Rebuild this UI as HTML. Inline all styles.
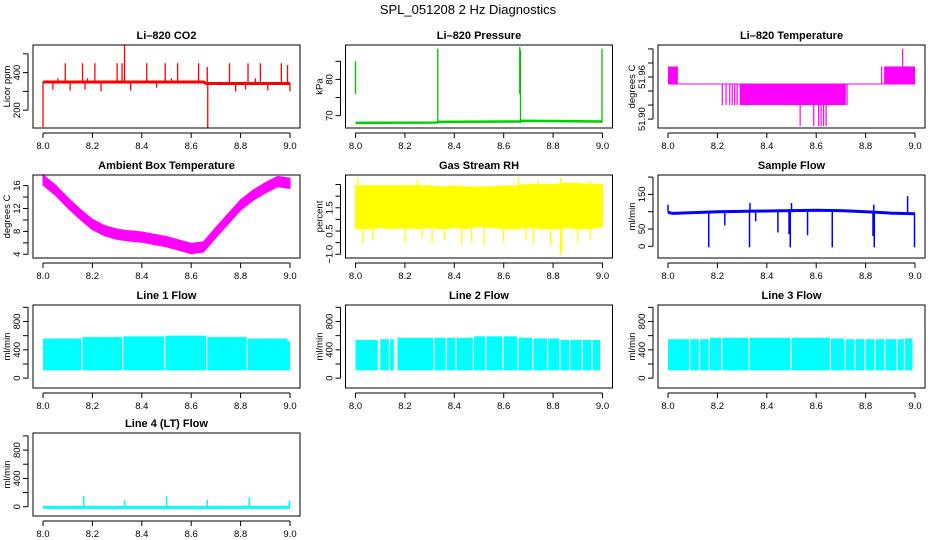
<!DOCTYPE html>
<html><head><meta charset="utf-8"><style>
body{margin:0;background:#fff}
svg{display:block;font-family:"Liberation Sans",Arial,sans-serif}
.t{font-weight:bold;font-size:11px}
.k{font-size:9.5px}
</style></head><body>
<svg id="c" width="936" height="540" viewBox="0 0 936 540">
<text x="468" y="14" text-anchor="middle" font-size="13">SPL_051208  2 Hz Diagnostics</text>
</svg>
<script>
// ---- data ----
const xTicks=[8.0,8.2,8.4,8.6,8.8,9.0];
const co2BaseT=[8.0,8.65,8.66,9.0];
const co2BaseV=[350,350,342,342];
const co2SpikeT=[8.09,8.16,8.21,8.30,8.32,8.42,8.495,8.545,8.63,8.665,8.755,8.83,8.88,8.965,8.99,8.33,8.0,8.667,8.04,8.11,8.17,8.235,8.355,8.46,8.78,8.82,8.91,9.0,8.06,8.18,8.52,8.86];
const co2SpikeV=[450,450,450,450,450,450,450,450,450,430,450,450,450,450,440,550,110,105,310,305,310,300,305,320,300,310,305,300,370,370,370,370];
const presBaseT=[8.0,8.33,8.335,8.665,8.67,9.0];
const presBaseV=[68.0,68.1,68.3,68.4,68.6,68.4];
const presSpikeT=[8.0,8.333,8.665,8.668,8.998];
const presSpikeLo=[76,68,76,68,68];
const presSpikeHi=[85,88.5,89,88,88.5];
const tempBandT0=[8.0,8.875,8.29,8.34];
const tempBandT1=[8.04,9.0,8.34,8.72];
const tempBandLo=[51.95,51.95,51.92,51.92];
const tempBandHi=[51.975,51.975,51.95,51.95];
const tempSpikeT=[8.22,8.235,8.25,8.26,8.27,8.28,8.725,8.535,8.59,8.61,8.62,8.63,8.64,8.95,8.865];
const tempSpikeLo=[51.92,51.92,51.92,51.92,51.92,51.92,51.92,51.89,51.89,51.89,51.89,51.89,51.89,51.95,51.95];
const tempSpikeHi=[51.95,51.95,51.95,51.95,51.95,51.95,51.95,51.95,51.95,51.95,51.95,51.95,51.95,52.0,51.975];
const ambT=[8.0,8.05,8.1,8.15,8.2,8.25,8.3,8.35,8.4,8.45,8.5,8.55,8.6,8.65,8.7,8.75,8.8,8.85,8.9,8.95,9.0];
const ambV=[17,15.2,13,11,9.2,8.1,7.5,7.2,7,6.6,6.2,5.6,5.0,5.3,7.8,10.2,12.6,14.3,15.6,16.7,16.4];
const rhT=[8.0,8.05,8.1,8.15,8.2,8.25,8.3,8.35,8.4,8.45,8.5,8.55,8.6,8.65,8.7,8.75,8.8,8.85,8.9,8.95,9.0];
const rhLo=[0.1,0.1,0.15,0.1,0.15,0.1,0.15,0.1,0.15,0.1,0.2,0.15,0.1,0.1,0.15,0.1,0.1,0.15,0.1,0.1,0.2];
const rhHi=[1.95,1.95,1.95,1.95,1.95,1.95,1.95,1.9,1.95,1.9,1.9,1.9,1.95,1.95,2.0,2.0,2.0,2.05,2.05,2.0,2.0];
const rhSpikeT=[8.03,8.07,8.2,8.27,8.31,8.36,8.43,8.47,8.52,8.6,8.69,8.72,8.79,8.83,8.835,8.9,8.95,8.01,8.25,8.66,8.83,8.74,8.95];
const rhSpikeV=[-0.5,-0.4,-0.5,-0.3,-0.5,-0.4,-0.6,-0.5,-0.6,-0.5,-0.4,-0.5,-0.6,-1.05,-0.9,-0.5,-0.4,2.3,2.2,2.3,2.3,2.2,2.2];
const sfBaseT=[8.0,8.02,8.2,8.4,8.6,8.7,8.8,8.9,9.0];
const sfBaseV=[98,95,100,102,104,103,100,96,94];
const sfSpikeT=[8.165,8.33,8.495,8.665,8.835,8.998,8.23,8.355,8.445,8.49,8.565,8.83,8.97,8.0,8.332,8.5,8.833];
const sfSpikeV=[-3,-3,-3,-3,-3,-3,60,72,40,35,32,30,145,120,125,125,120];
const l1Starts=[8.0,8.16,8.325,8.495,8.665,8.83,8.99];
const l1Ends=[8.155,8.32,8.49,8.66,8.825,8.99,9.0];
const l1Hi=[560,580,590,600,580,560,520];
const l2Starts=[8.0,8.1,8.14,8.17,8.32,8.37,8.41,8.48,8.53,8.6,8.66,8.72,8.78,8.83,8.87,8.92,8.96];
const l2Ends=[8.09,8.135,8.155,8.315,8.365,8.405,8.475,8.525,8.595,8.655,8.715,8.775,8.825,8.865,8.915,8.955,8.99];
const l2Hi=[540,550,550,570,570,570,570,590,590,590,570,560,560,540,540,540,540];
const l3Starts=[8.0,8.09,8.13,8.17,8.22,8.33,8.5,8.66,8.72,8.76,8.8,8.84,8.88,8.93,8.96];
const l3Ends=[8.085,8.125,8.165,8.215,8.325,8.495,8.655,8.715,8.755,8.795,8.835,8.875,8.925,8.955,8.99];
const l3Hi=[550,550,550,570,570,570,570,560,550,550,550,550,550,550,560];
const l4SpikeT=[8.165,8.33,8.5,8.665,8.835,8.998];
const l4SpikeV=[150,90,145,100,130,90];

// ---- drawing ----
const NS="http://www.w3.org/2000/svg";
const svg=document.getElementById('c');
function el(tag,a,p){const e=document.createElementNS(NS,tag);for(const k in a)e.setAttribute(k,a[k]);(p||svg).appendChild(e);return e;}
function panel(name,title,ylab,left,top,yTop,yBot,yt,ylabels,h){
  const w=267,H=h||83;
  const g=el('g',{});
  
  
  const X=v=>left+10+(v-8)*247;
  const Y=v=>top+(yTop-v)/(yTop-yBot)*H;
  const tt=el('text',{x:left+w/2,y:top-6,'text-anchor':'middle',class:'t'},g);tt.textContent=title;
  
  
  const plot=el('g',{},g);
  
  
  const box=el('rect',{x:left,y:top,width:w,height:H,fill:'none',stroke:'#000','stroke-width':1},g);
  
  
  const xa=el('g',{},g);
  
  
  el('line',{x1:X(8),x2:X(9),y1:top+H+5,y2:top+H+5,stroke:'#000'},xa);
  xTicks.forEach(v=>{el('line',{x1:X(v),x2:X(v),y1:top+H+5,y2:top+H+10,stroke:'#000'},xa);
    const t=el('text',{x:X(v),y:top+H+21,'text-anchor':'middle',class:'k'},xa);t.textContent=v.toFixed(1);});
  const ya=el('g',{},g);
  
  
  el('line',{x1:left-5,x2:left-5,y1:Y(yt[0]),y2:Y(yt[yt.length-1]),stroke:'#000'},ya);
  yt.forEach((v,i)=>{el('line',{x1:left-5,x2:left-10,y1:Y(v),y2:Y(v),stroke:'#000'},ya);
    if(ylabels[i]){const t=el('text',{x:0,y:0,'text-anchor':'middle',class:'k',transform:`translate(${left-13},${Y(v)}) rotate(-90)`},ya);t.textContent=ylabels[i];}});
  const yl=el('text',{x:0,y:0,'text-anchor':'middle',class:'k',transform:`translate(${left-23},${top+H/2}) rotate(-90)`},g);yl.textContent=ylab;
  
  
  return {X,Y,g:plot};
}
function poly(P,ts,vs,col,sw,name){const d=ts.map((t,i)=>P.X(t)+','+P.Y(vs[i])).join(' ');
  const e=el('polyline',{points:d,fill:'none',stroke:col,'stroke-width':sw},P.g);
  
  }
function vline(P,t,a,b,col,sw,name){const e=el('line',{x1:P.X(t),x2:P.X(t),y1:P.Y(a),y2:P.Y(b),stroke:col,'stroke-width':sw||1},P.g);
  
  }
function rect(P,t0,t1,lo,hi,col,name){const e=el('rect',{x:P.X(t0),y:P.Y(hi),width:Math.max(0.5,P.X(t1)-P.X(t0)),height:P.Y(lo)-P.Y(hi),fill:col},P.g);
  
  }
function baseAt(ts,vs,t){for(let i=1;i<ts.length;i++)if(t<=ts[i]){const f=(t-ts[i-1])/(ts[i]-ts[i-1]||1);return vs[i-1]+f*(vs[i]-vs[i-1]);}return vs[vs.length-1];}

const C1=33,C2=345.5,C3=658;
// CO2
let P=panel('co2','Li\u2013820 CO2','Licor ppm',C1,45,547,105,[200,300,400,500],['200','','400','']);
co2SpikeT.forEach((t,i)=>vline(P,t,baseAt(co2BaseT,co2BaseV,t),co2SpikeV[i],'#f00',1.3,'co2-spike'));
poly(P,co2BaseT,co2BaseV,'#f00',3,'co2-line');
// Pressure
P=panel('pressure','Li\u2013820 Pressure','kPa',C2,45,89.5,66.6,[70,75,80,85],['70','','80','']);
poly(P,presBaseT,presBaseV,'#00d000',2.5,'pressure-line');
presSpikeT.forEach((t,i)=>vline(P,t,presSpikeLo[i],presSpikeHi[i],'#00c000',1.3,'pressure-spike'));
// Temperature
P=panel('li820-temp','Li\u2013820 Temperature','degrees C',C3,45,52.0056,51.8873,[51.90,51.92,51.94,51.96,51.98,52.00],['51.90','','','51.96','','']);
tempBandT0.forEach((t,i)=>rect(P,t,tempBandT1[i],tempBandLo[i],tempBandHi[i],'#f0f','temp-band'));
poly(P,[8,9],[51.95,51.95],'#f0f',1,'temp-line');
tempSpikeT.forEach((t,i)=>vline(P,t,tempSpikeLo[i],tempSpikeHi[i],'#f0f',1.2,'temp-spike'));
// Ambient
P=panel('ambient-temp','Ambient Box Temperature','degrees C',C1,175,17.85,3.35,[4,6,8,10,12,14,16],['4','','8','','12','','16']);
{const up=ambT.map((t,i)=>P.X(t)+','+P.Y(ambV[i]+0.9)).join(' ');const dn=ambT.map((t,i)=>P.X(t)+','+P.Y(ambV[i]-0.9)).reverse().join(' ');
 const e=el('polygon',{points:up+' '+dn,fill:'#f0f',stroke:'#f0f','stroke-width':1},P.g);
 
 }
// RH
P=panel('gas-rh','Gas Stream RH','percent',C2,175,2.41,-1.16,[-1,-0.5,0,0.5,1,1.5,2],['\u22121.0','','0.5','','1.5','','']);
{const up=rhT.map((t,i)=>P.X(t)+','+P.Y(rhHi[i])).join(' ');const dn=rhT.map((t,i)=>P.X(t)+','+P.Y(rhLo[i])).reverse().join(' ');
 const e=el('polygon',{points:up+' '+dn,fill:'#ff0',stroke:'#ff0','stroke-width':1},P.g);
 
 }
rhSpikeT.forEach((t,i)=>vline(P,t,1,rhSpikeV[i],'#ff0',1.3,'rh-spike'));
// Sample flow
P=panel('sample-flow','Sample Flow','ml/min',C3,175,206,-33.8,[0,50,100,150,200],['0','50','','150','']);
sfSpikeT.forEach((t,i)=>vline(P,t,baseAt(sfBaseT,sfBaseV,t),sfSpikeV[i],'#00f',1.5,'sample-flow-spike'));
poly(P,sfBaseT,sfBaseV,'#00f',3,'sample-flow-line');
// Line flows
const flowT=[0,200,400,600,800,1000],flowL=['0','','400','','800',''];
function flows(name,title,left,st,en,hi){const P=panel(name,title,'ml/min',left,305,1033,-139,flowT,flowL);
  st.forEach((s,i)=>rect(P,s,en[i],110,hi[i],'#0ff',name+'-bar'));}
flows('line1-flow','Line 1 Flow',C1,l1Starts,l1Ends,l1Hi);
flows('line2-flow','Line 2 Flow',C2,l2Starts,l2Ends,l2Hi);
flows('line3-flow','Line 3 Flow',C3,l3Starts,l3Ends,l3Hi);
// Line 4
P=panel('line4-flow','Line 4 (LT) Flow','ml/min',C1,433,1041,-131,flowT,flowL);
poly(P,[8,9],[-10,-10],'#0ff',3,'line4-flow-line');
l4SpikeT.forEach((t,i)=>vline(P,t,-10,l4SpikeV[i],'#0ff',1.5,'line4-spike'));
</script>
</body></html>
